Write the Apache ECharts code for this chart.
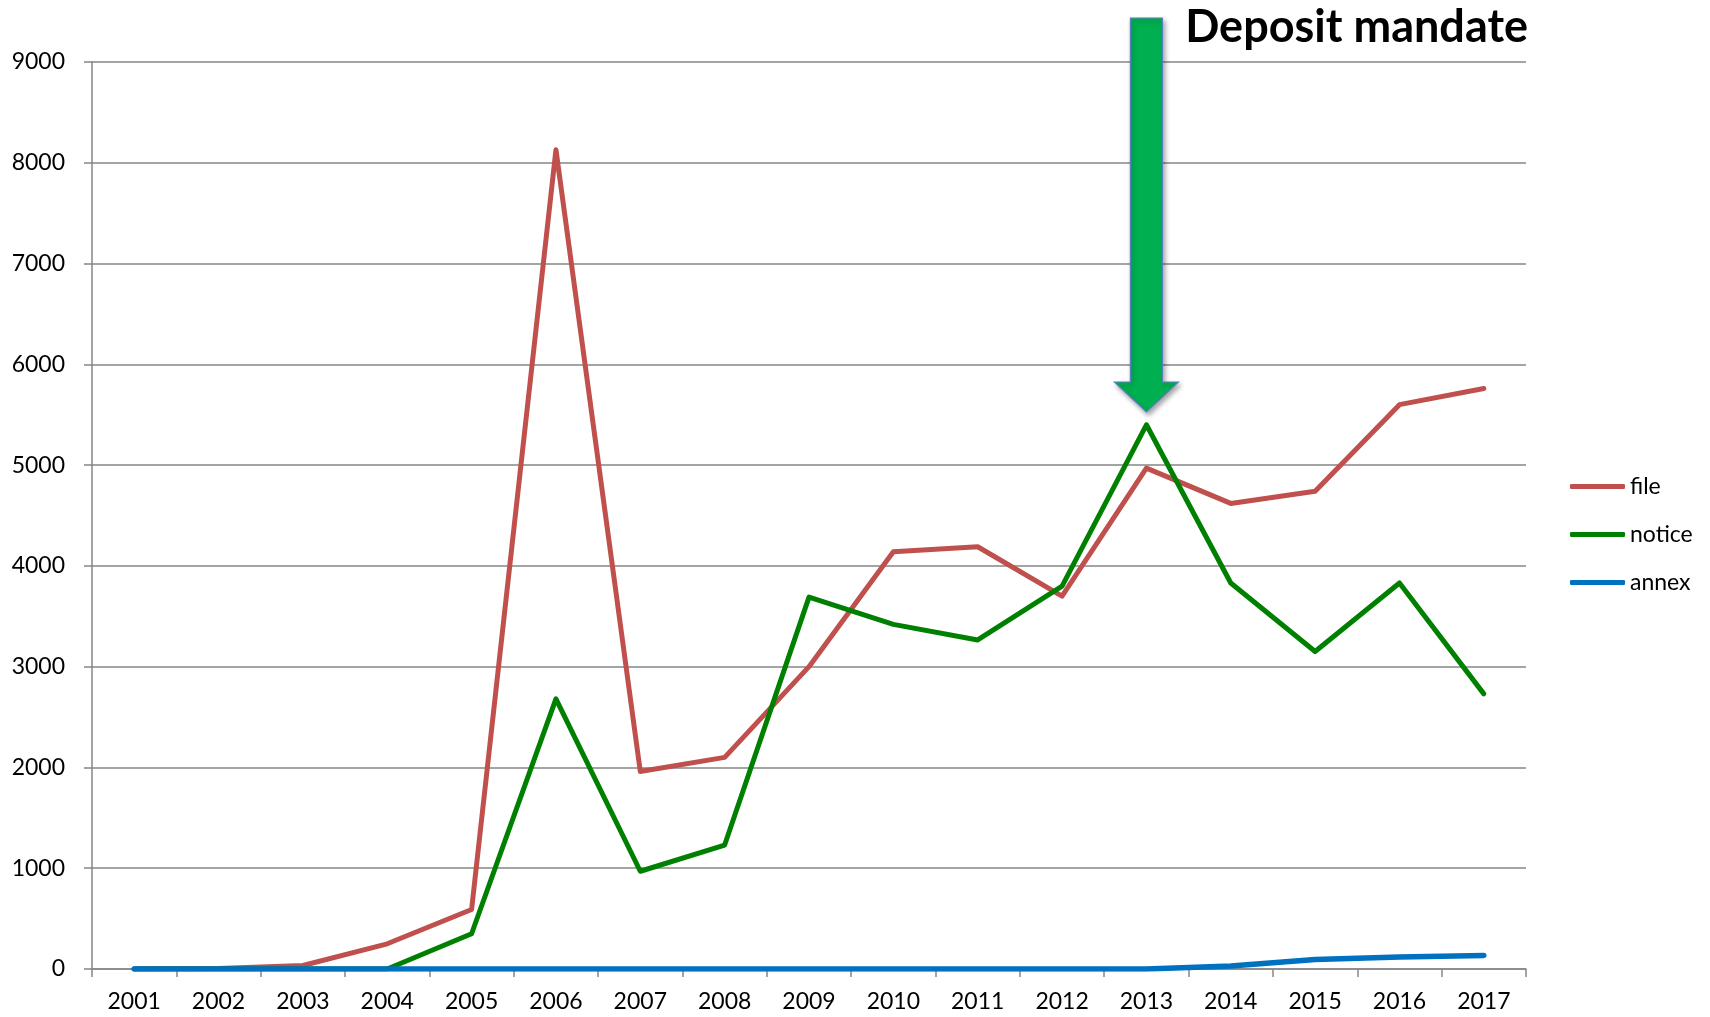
<!DOCTYPE html>
<html>
<head>
    <meta charset="UTF-8">
    <title>Deposit mandate</title>
    <script src="https://cdn.jsdelivr.net/npm/echarts/dist/echarts.min.js"></script>
    <style>
        html, body { margin: 0; padding: 0; background: #fff; }
        #main { width: 1710px; height: 1017px; }
    </style>
</head>
<body>
    <div id="main"></div>
    <script type="text/javascript">
        // values
        const years = ['2001', '2002', '2003', '2004', '2005', '2006', '2007', '2008', '2009',
                       '2010', '2011', '2012', '2013', '2014', '2015', '2016', '2017'];
        const fileCounts   = [0, 5, 35, 250, 590, 8130, 1960, 2100, 3000, 4140, 4190, 3700, 4970, 4620, 4740, 5600, 5760];
        const noticeCounts = [0, 0, 0, 0, 350, 2680, 970, 1230, 3690, 3420, 3265, 3800, 5400, 3830, 3150, 3830, 2730];
        const annexCounts  = [0, 0, 0, 0, 0, 0, 0, 0, 0, 0, 0, 0, 0, 30, 95, 120, 135];
        const mandateYear = '2013';

        const gray = '#868686';
        const font = 'Lato, "Open Sans", sans-serif';

        let chart = echarts.init(document.getElementById('main'));

        function lineSeries(name, data, color, width) {
            return {
                name: name,
                type: 'line',
                data: data,
                symbol: 'none',
                smooth: false,
                lineStyle: { color: color, width: width, cap: 'round', join: 'round' },
                itemStyle: { color: color }
            };
        }

        let option = {
            animation: false,
            backgroundColor: '#fff',
            title: {
                text: 'Deposit mandate',
                right: 177,
                top: 0,
                textStyle: { fontFamily: font, fontWeight: 'bold', fontSize: 45, color: '#000' }
            },
            legend: {
                orient: 'vertical',
                left: 1565,
                top: 470,
                itemWidth: 55,
                itemHeight: 5,
                itemGap: 25,
                icon: 'roundRect',
                textStyle: { fontFamily: font, fontSize: 23, color: '#000' },
                data: ['file', 'notice', 'annex']
            },
            grid: { left: 92, right: 184, top: 62, bottom: 48 },
            xAxis: {
                type: 'category',
                data: years,
                boundaryGap: true,
                axisLine: { lineStyle: { color: gray, width: 1.5 } },
                axisTick: { show: true, interval: 0, length: 8, lineStyle: { color: gray, width: 1.5 } },
                axisLabel: { interval: 0, margin: 21, fontFamily: font, fontSize: 23, color: '#000' },
                splitLine: { show: false }
            },
            yAxis: {
                type: 'value',
                min: 0,
                max: 9000,
                interval: 1000,
                axisLine: { show: true, lineStyle: { color: gray, width: 1.5 } },
                axisTick: { show: true, length: 8, lineStyle: { color: gray, width: 1.5 } },
                axisLabel: { margin: 27, fontFamily: font, fontSize: 23, color: '#000', formatter: v => String(v) },
                splitLine: { lineStyle: { color: gray, width: 1.5 } }
            },
            series: [
                lineSeries('file', fileCounts, '#C0504D', 5),
                lineSeries('notice', noticeCounts, '#008000', 5),
                lineSeries('annex', annexCounts, '#0070C0', 5.5)
            ]
        };

        chart.setOption(option);

        // the green arrow pointing at the mandate year
        let cx = chart.convertToPixel({ xAxisIndex: 0 }, mandateYear);
        let shaftHalf = 16, headHalf = 32;
        let arrowTop = 18, headBase = 382, arrowTip = 412;
        chart.setOption({
            graphic: [{
                type: 'polygon',
                z: 100,
                shape: {
                    points: [
                        [cx - shaftHalf, arrowTop], [cx + shaftHalf, arrowTop], [cx + shaftHalf, headBase],
                        [cx + headHalf, headBase], [cx, arrowTip], [cx - headHalf, headBase],
                        [cx - shaftHalf, headBase]
                    ]
                },
                style: {
                    fill: '#00B050',
                    stroke: '#5B7FC4',
                    lineWidth: 1.2,
                    shadowBlur: 5,
                    shadowOffsetX: 2,
                    shadowOffsetY: 3,
                    shadowColor: 'rgba(0,0,0,0.35)'
                }
            }]
        });
    </script>
</body>
</html>
